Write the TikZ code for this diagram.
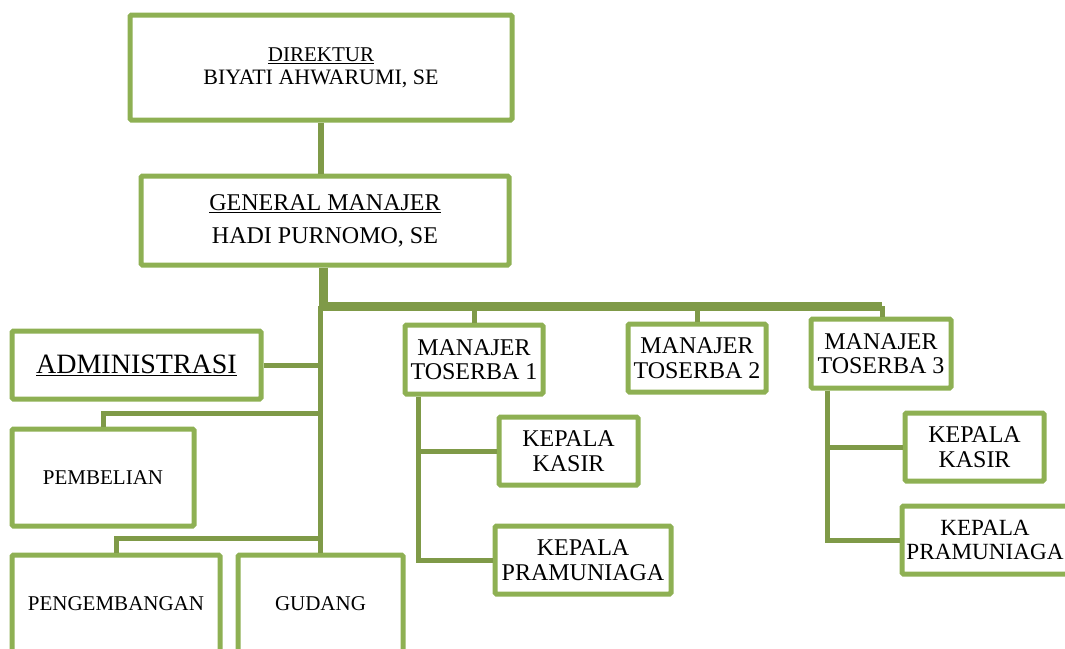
\documentclass[tikz,border=0pt]{standalone}
\usepackage{fontspec}
\setmainfont{Liberation Serif}
\definecolor{boxgreen}{HTML}{8EB053}
\definecolor{linegreen}{HTML}{7F9A48}
\begin{document}
\begin{tikzpicture}[x=1pt,y=-1pt,
  box/.style={draw=boxgreen, line width=5pt, fill=white, inner sep=0pt, align=center, rounded corners=1.5pt},
  conn/.style={draw=linegreen, line width=5pt},
  bar/.style={draw=linegreen, line width=9pt},
  fa/.style={font=\fontsize{21}{23}\selectfont},
  fb/.style={font=\fontsize{24}{24.5}\selectfont}]
\useasboundingbox (0,0) rectangle (1065,648);
\clip (0,0) rectangle (1065,648);
% boxes
\node[box,fa,minimum width=382pt,minimum height=105pt] (dir) at (321,67.5) {\underline{DIREKTUR}\\\fontsize{22}{23}\selectfont BIYATI AHWARUMI, SE};
\node[box,font=\fontsize{24}{33}\selectfont,minimum width=368pt,minimum height=89pt] (gm) at (325,220.5) {\underline{GENERAL MANAJER}\\HADI PURNOMO, SE};
\node[box,font=\fontsize{28}{30}\selectfont,minimum width=249pt,minimum height=68pt] (adm) at (136.5,365) {\underline{ADMINISTRASI}};
\node[box,fa,minimum width=182pt,minimum height=97pt] (pem) at (103,477.5) {PEMBELIAN};
\node[box,fa,minimum width=208pt,minimum height=97pt] (peng) at (116,603.5) {PENGEMBANGAN};
\node[box,fa,minimum width=165pt,minimum height=97pt] (gud) at (320.5,603.5) {GUDANG};
\node[box,fb,minimum width=138pt,minimum height=69pt] (m1) at (474,359.5) {MANAJER\\TOSERBA 1};
\node[box,fb,minimum width=138pt,minimum height=68pt] (m2) at (697,358) {MANAJER\\TOSERBA 2};
\node[box,fb,minimum width=140pt,minimum height=69pt] (m3) at (881,353.5) {MANAJER\\TOSERBA 3};
\node[box,fb,minimum width=139pt,minimum height=68pt] (k1) at (568.5,451) {KEPALA\\KASIR};
\node[box,fb,minimum width=176pt,minimum height=68pt] (p1) at (583,560) {KEPALA\\PRAMUNIAGA};
\node[box,fb,minimum width=139pt,minimum height=68pt] (k3) at (974.5,447) {KEPALA\\KASIR};
\node[box,font=\fontsize{23.2}{24.5}\selectfont,minimum width=166pt,minimum height=68pt] (p3) at (985,540) {KEPALA\\PRAMUNIAGA};
% junction coordinates
\coordinate (bl) at (323,306);
\coordinate (br) at (882,306);
\coordinate (tb) at (320.5,306);
\coordinate (pj) at (320.5,413);
\coordinate (gj) at (320.5,538);
\coordinate (t1) at (418,0);
\coordinate (t3) at (827,0);
% connectors
\draw[conn,line width=6pt] (dir.south) -- (dir.south |- gm.north);
\draw[bar] (bl |- gm.south) -- (bl) -- (br);
\draw[conn] (br) -- (br |- m3.north);
\draw[conn] (m1.north |- bl) -- (m1.north);
\draw[conn] (m2.north |- bl) -- (m2.north);
\draw[conn] (tb) -- (tb |- gud.north);
\draw[conn] (adm.east) -- (adm.east -| tb);
\draw[conn] (pj) -| (pem.north);
\draw[conn] (gj) -| (peng.north);
\draw[conn] (m1.south -| t1) |- (k1.west);
\draw[conn] (m1.south -| t1) |- (p1.west);
\draw[conn] (m3.south -| t3) |- (k3.west);
\draw[conn] (m3.south -| t3) |- (p3.west);
\end{tikzpicture}
\end{document}
